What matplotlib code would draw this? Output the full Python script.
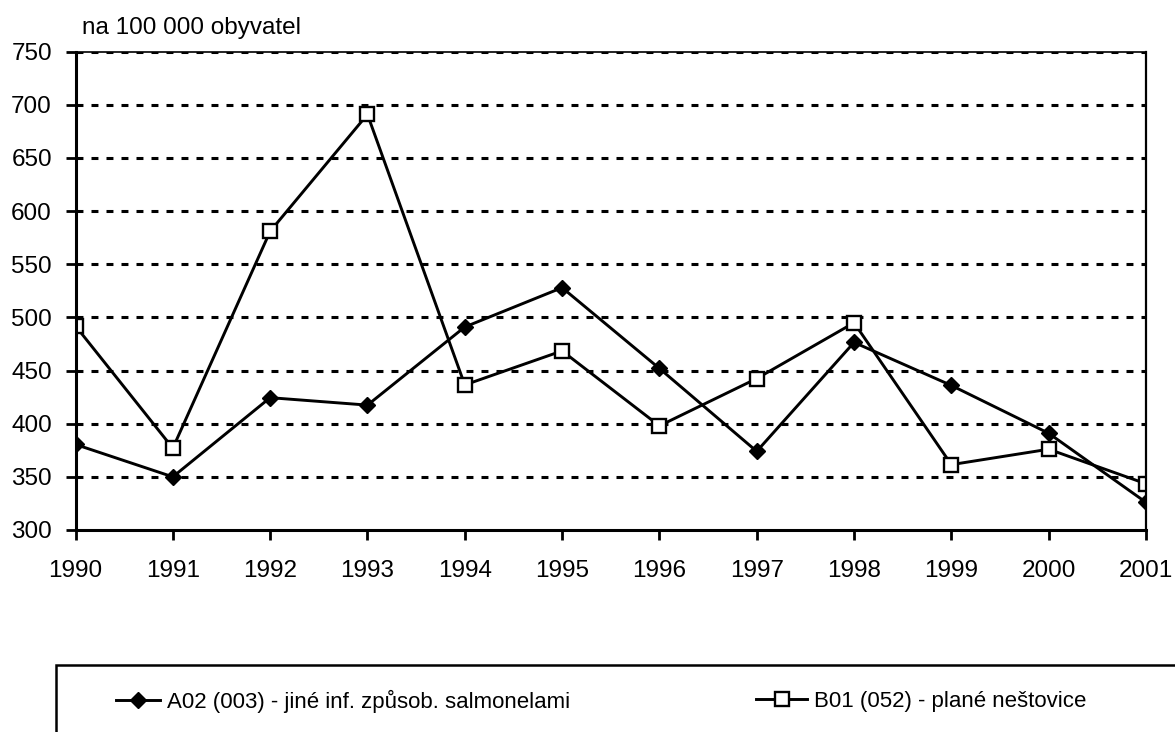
import numpy as np
import matplotlib
matplotlib.use("Agg")
import matplotlib.pyplot as plt
from matplotlib.patches import Rectangle

plt.rcParams['font.family'] = ['Liberation Sans', 'DejaVu Sans']
plt.rcParams['lines.scale_dashes'] = False

############################################################
# data
############################################################
years = [1990, 1991, 1992, 1993, 1994, 1995, 1996, 1997, 1998, 1999, 2000, 2001]
a02 = [380.5, 350, 424.5, 417.5, 491, 528, 452, 374, 476.5, 436, 391, 326]
b01 = [492, 377, 581, 691, 436.5, 468.5, 398, 442.5, 495, 361.5, 376, 343.5]
lab_a02 = "A02 (003) - jiné inf. způsob. salmonelami"
lab_b01 = "B01 (052) - plané neštovice"
yticks = [300, 350, 400, 450, 500, 550, 600, 650, 700, 750]

FS = 17.5
LFS = 16

fig = plt.figure(figsize=(11.75, 7.32), dpi=100)
ax = fig.add_axes([75.5/1175, 1 - 530/732, (1146 - 75.5)/1175, (530 - 51.7)/732])

# dashed grid
for v in yticks[1:]:
    ax.axhline(v, color='black', lw=2.2, linestyle=(0, (5, 5.8)), zorder=1)

la, = ax.plot(years, a02, color='black', lw=2.1, marker='D', ms=8.5,
              mfc='black', mec='black', label=lab_a02, zorder=3)
lb, = ax.plot(years, b01, color='black', lw=2.1, marker='s', ms=10,
              mfc='white', mec='black', mew=1.7, label=lab_b01, zorder=3)

ax.set_xlim(1990, 2001)
ax.set_ylim(300, 750)
ax.set_xticks(years)
ax.set_yticks(yticks)
ax.tick_params(axis='both', labelsize=FS, width=2, length=7.5, direction='out', color='black')
ax.tick_params(axis='y', pad=9.5)
ax.tick_params(axis='x', pad=14)

ax.spines['left'].set_linewidth(2.2)
ax.spines['bottom'].set_linewidth(2.2)
ax.spines['top'].set_linewidth(1.2)
ax.spines['right'].set_linewidth(1.6)
for s in ax.spines.values():
    s.set_zorder(4)

fig.text(81.7/1175, 1 - 34/732, "na 100 000 obyvatel", fontsize=FS, va='baseline', ha='left')

# legend box - cut by the bottom and right edge like in the original
fig.patches.append(Rectangle((56/1175, -0.2), 1.2, 0.2 + 1 - 665/732,
                             transform=fig.transFigure, fill=False, edgecolor='black', lw=1.8))

ypos = 1 - 701.7/732
fig.legend(handles=[la], loc='center left', bbox_to_anchor=(116/1175, ypos),
           frameon=False, fontsize=LFS, handlelength=2.0, handletextpad=0.3,
           borderaxespad=0, borderpad=0)
fig.legend(handles=[lb], loc='center left', bbox_to_anchor=(756/1175, ypos),
           frameon=False, fontsize=LFS, handlelength=2.3, handletextpad=0.3,
           borderaxespad=0, borderpad=0)

fig.savefig("out.png", dpi=100)
